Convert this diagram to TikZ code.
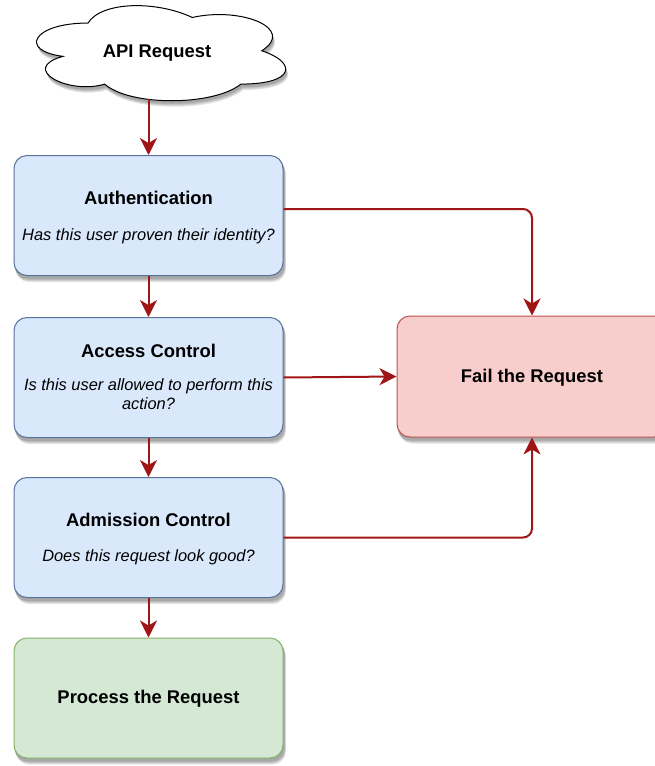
\documentclass[tikz,border=0pt]{standalone}
\usepackage{fontspec}
\setmainfont{Liberation Sans}
\usetikzlibrary{arrows.meta,backgrounds}

\definecolor{bluefill}{HTML}{DAE8FC}
\definecolor{bluedraw}{HTML}{6C8EBF}
\definecolor{redfill}{HTML}{F8CECC}
\definecolor{reddraw}{HTML}{B85450}
\definecolor{greenfill}{HTML}{D5E8D4}
\definecolor{greendraw}{HTML}{82B366}
\definecolor{flow}{HTML}{A01616}

\tikzset{
  % offset grey fills give a soft shadow under the cloud
  shadowlayer/.style 2 args={preaction={fill=black!#2, draw=none,
    transform canvas={shift={(#1*0.4pt,-#1*1pt)}}}},
  softshadow/.style={shadowlayer={6}{10}, shadowlayer={5}{18}, shadowlayer={4}{26},
    shadowlayer={3}{34}},
  box/.style={rounded corners=13pt, line width=1pt, minimum width=269pt,
    minimum height=120pt, inner sep=0pt},
  stepblue/.style={box, fill=bluefill, draw=bluedraw!80!black},
  stepred/.style={box, fill=redfill, draw=reddraw},
  stepgreen/.style={box, fill=greenfill, draw=greendraw},
  title/.style={font=\fontsize{18.4}{21}\selectfont\bfseries, inner sep=0pt},
  note/.style={font=\fontsize{16.4}{19}\selectfont\itshape, inner sep=0pt, align=center},
  flowarrow/.style={draw=flow, line width=2pt,
    -{Stealth[length=17pt,width=17pt,inset=5pt]}, rounded corners=9pt}
}

\begin{document}
\begin{tikzpicture}[x=1pt,y=-1pt]
  \useasboundingbox (0,0) rectangle (655,766);

  % request entry point: a six-lobed cloud outline
  \begin{scope}[shift={(18.5,-4.7)}, x=278pt, y=-111pt]
    \path[fill=white, draw=black, line width=1pt, softshadow]
      (0.25,0.25)
      .. controls (0.05,0.25) and (0,0.5) .. (0.16,0.55)
      .. controls (0,0.66) and (0.18,0.9) .. (0.31,0.8)
      .. controls (0.4,1) and (0.7,1) .. (0.8,0.8)
      .. controls (1,0.8) and (1,0.6) .. (0.875,0.5)
      .. controls (1,0.3) and (0.8,0.1) .. (0.625,0.2)
      .. controls (0.5,0.05) and (0.3,0.05) .. (0.25,0.25) -- cycle;
  \end{scope}
  \node[title] (cloudT) at (157,53) {API Request};
  \coordinate (cloudBase) at (148.5,99);

  % checking stages
  \node[stepblue] (auth) at (148.5,215.5) {};
  \node[title] (authT) at (148.5,198) {Authentication};
  \node[note] (authN) at (148.5,236) {Has this user proven their identity?};

  \node[stepblue] (access) at (148.5,377.5) {};
  \node[title] (accessT) at (148.5,351) {Access Control};
  \node[note] (accessN) at (148.5,394.5) {Is this user allowed to perform this\\action?};

  \node[stepblue] (admit) at (148.5,537.5) {};
  \node[title] (admitT) at (148.5,520) {Admission Control};
  \node[note] (admitN) at (148.5,557) {Does this request look good?};

  \node[stepgreen] (proc) at (148.5,698) {};
  \node[title] (procT) at (148.5,699) {Process the Request};

  \node[stepred, minimum width=270pt, minimum height=121pt] (fail) at (532,376.5) {};
  \node[title] (failT) at (532,378) {Fail the Request};

  % soft shadows behind the boxes
  \begin{scope}[on background layer]
    \foreach \b in {auth,access,admit,proc,fail}{
      \path[softshadow, rounded corners=13pt]
        (\b.south west) rectangle (\b.north east);
    }
  \end{scope}

  % main flow
  \draw[flowarrow] (cloudBase) -- (auth.north);
  \draw[flowarrow] (auth.south) -- (access.north);
  \draw[flowarrow] (access.south) -- (admit.north);
  \draw[flowarrow] (admit.south) -- (proc.north);

  % rejections
  \draw[flowarrow] ([yshift=6.5pt]auth.east) -| (fail.north);
  \draw[flowarrow] (access.east) -- (fail.west);
  \draw[flowarrow] (admit.east) -| (fail.south);
\end{tikzpicture}
\end{document}
